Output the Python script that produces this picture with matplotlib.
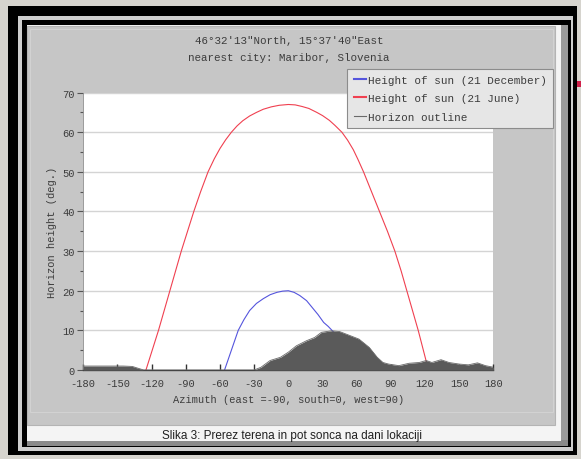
import numpy as np
import matplotlib.pyplot as plt
from matplotlib.patches import Rectangle

plt.rcParams['axes.unicode_minus'] = False

W, H = 581, 460

# values (azimuth in deg, height in deg)
dec_az = [-56, -53, -50, -47, -44, -39, -34, -28, -22, -16, -10, -5, 0, 5, 10, 16, 22, 26, 31, 35, 40, 46, 51]
dec_h = [0, 2.5, 5, 7.5, 10, 12.7, 15, 16.8, 18, 19, 19.6, 19.9, 20, 19.6, 18.8, 17.5, 15.4, 14, 12, 11, 9.5, 5, 0]

june_az = [-125, -119.5, -114, -109, -104, -99, -94, -88.5, -83, -77, -70.5, -65, -60, -55, -50, -45, -40, -34,
           -28, -22, -15, -8, 0, 6, 12, 18, 25, 30, 36, 41, 47, 52, 57, 61, 66, 73, 80, 87, 93.5, 99, 104,
           109, 114, 118.5, 123]
june_h = [0, 5, 10, 15, 20, 25, 30, 35, 40, 45, 50, 53.3, 55.9, 58.1, 60, 61.6, 62.9, 64.1,
          65, 65.8, 66.4, 66.8, 67, 66.9, 66.5, 66, 65, 64.2, 63, 61.7, 60, 58, 55.6, 53.2, 50, 45, 40, 35, 30, 25, 20,
          15, 10, 5, 0]

hor_az = [-180, -160, -145, -137, -127, -30, -24, -16, -7, 0, 7, 16, 23, 29, 38, 45, 54, 62, 71, 78,
          83, 88, 97, 106, 115, 121, 126, 134, 141, 150, 158, 166, 173, 180]
hor_h = [1.0, 1.0, 1.0, 0.9, 0, 0, 0.7, 2.4, 3.2, 4.5, 6.1, 7.4, 8.2, 9.5, 9.9, 9.7, 8.7, 7.8, 5.7, 3.2,
         1.9, 1.5, 1.1, 1.7, 1.9, 2.4, 1.9, 2.6, 1.9, 1.5, 1.3, 1.8, 1.1, 0.7]

title_lines = ['46\u00b032\'13"North, 15\u00b037\'40"East', 'nearest city: Maribor, Slovenia']
xlabel = 'Azimuth (east =-90, south=0, west=90)'
ylabel = 'Horizon height (deg.)'
caption = 'Slika 3: Prerez terena in pot sonca na dani lokaciji'
labels = ['Height of sun (21 December)', 'Height of sun (21 June)', 'Horizon outline']

mono = 'Liberation Mono'
txt_col = '#3c3c3c'

fig = plt.figure(figsize=(W / 100, H / 100), dpi=100)
fig.patch.set_facecolor('#d6d4ce')


def box(x0, y0, x1, y1, **kw):
    # pixel box (top-left origin) -> rectangle in figure fraction
    r = Rectangle((x0 / W, 1 - y1 / H), (x1 - x0) / W, (y1 - y0) / H,
                  transform=fig.transFigure, **kw)
    fig.add_artist(r)
    return r


# screenshot frame
box(7.7, 6.7, 576.7, 456, facecolor='black', lw=0, zorder=0)
box(18.3, 17, 573.3, 452, facecolor='#cfcfcf', lw=0, zorder=0)
box(21.7, 21, 570.7, 448, facecolor='black', lw=0, zorder=0)
box(26.5, 26, 568, 447, facecolor='white', lw=0, zorder=0)
box(560, 26, 568, 447, facecolor='#9a9a9a', lw=0, zorder=0)
box(26.5, 441, 568, 447, facecolor='#8a8a8a', lw=0, zorder=0)
box(26.5, 26, 561, 442, facecolor='#f4f4f4', lw=0, zorder=0)
# chart image
box(27, 27, 555, 426, facecolor='#c6c6c6', edgecolor='#b4b4b4', lw=0.8, zorder=0)
box(30, 30, 553, 413, facecolor='none', edgecolor='#d2d2d2', lw=0.8, zorder=0)
# small red mark at the right edge
box(576.7, 82, 581, 87.5, facecolor='#d0204a', lw=0, zorder=0)

ax = fig.add_axes([83.3 / W, 1 - 371 / H, 410.1 / W, 277.4 / H])
ax.set_facecolor('white')

l1, = ax.plot(dec_az, dec_h, color='#5555dd', lw=0.8, zorder=2)
l2, = ax.plot(june_az, june_h, color='#f04050', lw=0.8, zorder=2)
ax.fill_between(hor_az, 0, hor_h, color='#5a5a5a', lw=0, zorder=3)
l3, = ax.plot(hor_az, hor_h, color='#6a6a6a', lw=0.6, zorder=3)

ax.set_xlim(-180, 180)
ax.set_ylim(0, 70)
ax.set_xticks(np.arange(-180, 181, 30))
ax.set_yticks(np.arange(0, 71, 10))
ax.set_yticks(np.arange(0, 71, 5), minor=True)
ax.yaxis.grid(True, color='#d4d4d4', lw=1.0)
ax.set_axisbelow(True)

for s in ['top', 'right']:
    ax.spines[s].set_visible(False)
ax.spines['left'].set_color('#8a8a8a')
ax.spines['left'].set_linewidth(0.6)
ax.spines['bottom'].set_color('#444444')
ax.spines['bottom'].set_linewidth(1.0)

ax.tick_params(axis='x', direction='in', length=4, width=1, color='#333333', pad=6)
ax.tick_params(axis='y', which='major', direction='out', length=4, width=0.8, color='#555555', pad=2)
ax.tick_params(axis='y', which='minor', direction='out', length=2, width=0.8, color='#555555')
for t in ax.get_xticklabels() + ax.get_yticklabels():
    t.set_fontfamily(mono)
    t.set_fontsize(7.5)
    t.set_color(txt_col)

ax.set_xlabel(xlabel, fontfamily=mono, fontsize=7.5, color=txt_col, labelpad=4)
ax.set_ylabel(ylabel, fontfamily=mono, fontsize=7.5, color=txt_col, labelpad=4)

fig.text(289 / W, 1 - 41 / H, title_lines[0], ha='center', va='center',
         fontfamily=mono, fontsize=7.8, color=txt_col)
fig.text(289 / W, 1 - 58 / H, title_lines[1], ha='center', va='center',
         fontfamily=mono, fontsize=7.8, color=txt_col)

leg = fig.legend([l1, l2, l3], labels, loc='upper left',
                 bbox_to_anchor=(347 / W, 1 - 69.5 / H),
                 prop={'family': mono, 'size': 7.9},
                 frameon=True, fancybox=False, framealpha=1,
                 facecolor='#e6e6e6', edgecolor='#8c8c8c',
                 handlelength=1.1, handletextpad=0.2, borderpad=0.6,
                 labelspacing=0.75, borderaxespad=0)
leg.get_frame().set_linewidth(0.8)
for t in leg.get_texts():
    t.set_color(txt_col)
for h in leg.legend_handles:
    h.set_linewidth(1.5)
leg.legend_handles[2].set_linewidth(0.8)
leg.set_zorder(10)
# legend drop shadow
box(349, 127, 553, 129.5, facecolor='#555555', lw=0, zorder=1)

fig.text(292 / W, 1 - 436 / H, caption, ha='center', va='center',
         fontfamily='Liberation Sans', fontsize=8.5, color='#202020')

fig.savefig('out.png', dpi=100)
